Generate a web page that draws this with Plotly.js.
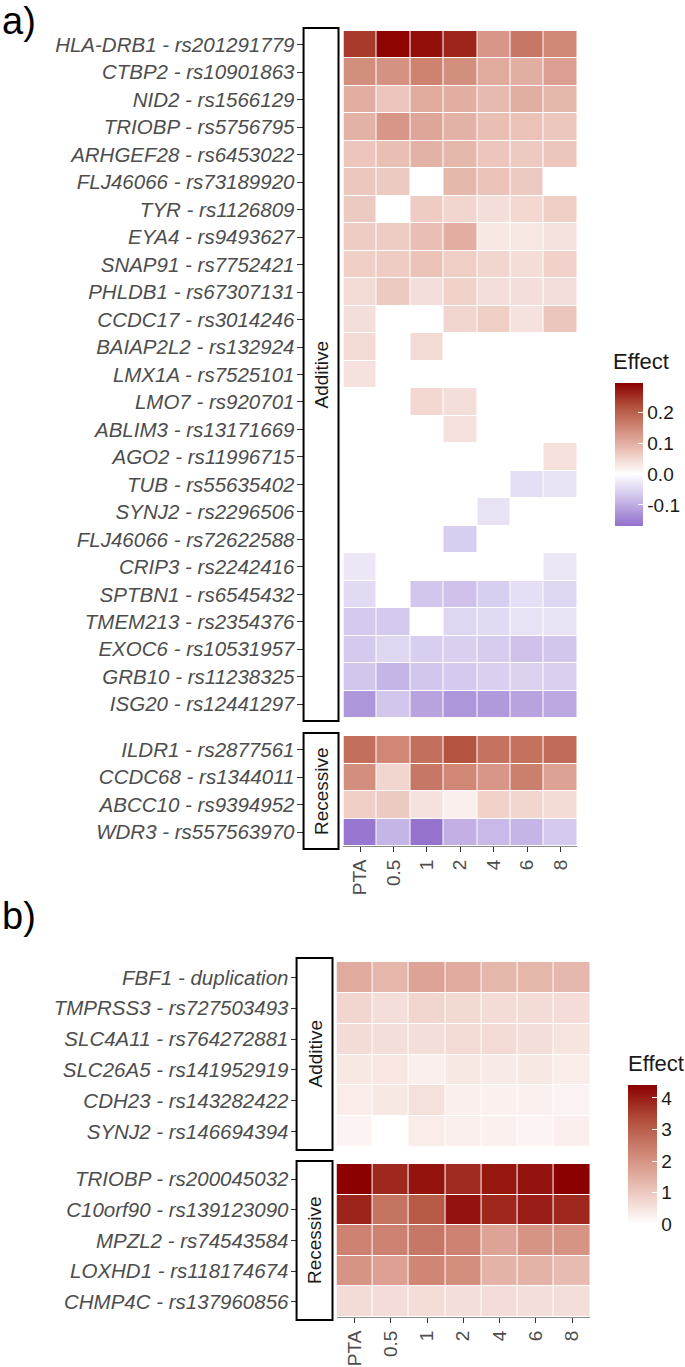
<!DOCTYPE html>
<html>
<head>
<meta charset="utf-8">
<script src="https://cdn.plot.ly/plotly-3.0.1.min.js"></script>
<style>html,body{margin:0;padding:0;background:#fff;}#chart{width:685px;height:1367px;}</style>
</head>
<body>
<div id="chart"></div>
<script>
// ---------- DATA ----------
const freqs = ['PTA', '0.5', '1', '2', '4', '6', '8'];

const aAdditiveLabels = [
  'HLA-DRB1 - rs201291779', 'CTBP2 - rs10901863', 'NID2 - rs1566129', 'TRIOBP - rs5756795',
  'ARHGEF28 - rs6453022', 'FLJ46066 - rs73189920', 'TYR - rs1126809', 'EYA4 - rs9493627',
  'SNAP91 - rs7752421', 'PHLDB1 - rs67307131', 'CCDC17 - rs3014246', 'BAIAP2L2 - rs132924',
  'LMX1A - rs7525101', 'LMO7 - rs920701', 'ABLIM3 - rs13171669', 'AGO2 - rs11996715',
  'TUB - rs55635402', 'SYNJ2 - rs2296506', 'FLJ46066 - rs72622588', 'CRIP3 - rs2242416',
  'SPTBN1 - rs6545432', 'TMEM213 - rs2354376', 'EXOC6 - rs10531957', 'GRB10 - rs11238325',
  'ISG20 - rs12441297'
];
const aAdditiveEffect = [
  [0.24, 0.29, 0.28, 0.26, 0.13, 0.17, 0.15],
  [0.14, 0.135, 0.155, 0.14, 0.105, 0.10, 0.12],
  [0.10, 0.07, 0.105, 0.10, 0.085, 0.10, 0.09],
  [0.095, 0.13, 0.11, 0.095, 0.08, 0.075, 0.068],
  [0.07, 0.08, 0.095, 0.09, 0.07, 0.065, 0.07],
  [0.068, 0.065, null, 0.088, 0.075, 0.065, null],
  [0.065, null, 0.062, 0.05, 0.04, 0.048, 0.06],
  [0.062, 0.062, 0.078, 0.10, 0.028, 0.03, 0.035],
  [0.06, 0.062, 0.075, 0.06, 0.05, 0.042, 0.055],
  [0.045, 0.065, 0.04, 0.055, 0.04, 0.04, 0.04],
  [0.04, null, null, 0.05, 0.06, 0.035, 0.07],
  [0.045, null, 0.045, null, null, null, null],
  [0.035, null, null, null, null, null, null],
  [null, null, 0.048, 0.04, null, null, null],
  [null, null, null, 0.038, null, null, null],
  [null, null, null, null, null, null, 0.038],
  [null, null, null, null, null, -0.04, -0.035],
  [null, null, null, null, -0.035, null, null],
  [null, null, null, -0.06, null, null, null],
  [-0.03, null, null, null, null, null, -0.03],
  [-0.045, null, -0.07, -0.075, -0.06, -0.04, -0.05],
  [-0.065, -0.065, null, -0.05, -0.045, -0.035, -0.035],
  [-0.065, -0.05, -0.06, -0.058, -0.062, -0.075, -0.07],
  [-0.07, -0.09, -0.07, -0.065, -0.058, -0.055, -0.058],
  [-0.125, -0.07, -0.11, -0.125, -0.12, -0.11, -0.105]
];

const aRecessiveLabels = ['ILDR1 - rs2877561', 'CCDC68 - rs1344011', 'ABCC10 - rs9394952', 'WDR3 - rs557563970'];
const aRecessiveEffect = [
  [0.18, 0.15, 0.18, 0.215, 0.175, 0.178, 0.185],
  [0.14, 0.05, 0.17, 0.15, 0.13, 0.16, 0.115],
  [0.06, 0.065, 0.035, 0.02, 0.055, 0.05, 0.045],
  [-0.16, -0.09, -0.165, -0.095, -0.085, -0.09, -0.065]
];

const bAdditiveLabels = ['FBF1 - duplication', 'TMPRSS3 - rs727503493', 'SLC4A11 - rs764272881',
  'SLC26A5 - rs141952919', 'CDH23 - rs143282422', 'SYNJ2 - rs146694394'];
const bAdditiveEffect = [
  [1.55, 1.35, 1.7, 1.55, 1.35, 1.35, 1.3],
  [0.75, 0.6, 0.75, 0.7, 0.65, 0.65, 0.62],
  [0.65, 0.6, 0.6, 0.68, 0.68, 0.6, 0.5],
  [0.42, 0.45, 0.3, 0.42, 0.38, 0.42, 0.35],
  [0.35, 0.42, 0.55, 0.3, 0.28, 0.25, 0.22],
  [0.2, null, 0.35, 0.3, 0.28, 0.2, 0.3]
];

const bRecessiveLabels = ['TRIOBP - rs200045032', 'C10orf90 - rs139123090', 'MPZL2 - rs74543584',
  'LOXHD1 - rs118174674', 'CHMP4C - rs137960856'];
const bRecessiveEffect = [
  [4.4, 3.85, 4.15, 3.8, 4.1, 4.15, 4.4],
  [3.9, 2.6, 3.1, 4.15, 3.85, 4.0, 3.85],
  [2.35, 2.35, 2.55, 2.35, 1.7, 2.0, 2.0],
  [2.0, 1.75, 2.25, 2.1, 1.4, 1.4, 1.25],
  [0.65, 0.62, 0.63, 0.6, 0.62, 0.6, 0.6]
];

const aTicks = [-0.1, 0, 0.1, 0.2];
const aTickText = ['-0.1', '0.0', '0.1', '0.2'];
const bTicks = [0, 1, 2, 3, 4];

// ---------- STYLE / LAYOUT ----------
const W = 685, H = 1367;
const px = v => v / W;
const py = v => 1 - v / H;
const FONT = '"Liberation Sans", Arial, Helvetica, sans-serif';

const aMin = -0.168, aMax = 0.294;
const af = v => (v - aMin) / (aMax - aMin);
const aScale = [
  [0, 'rgb(146,112,204)'],
  [af(-0.084), 'rgb(201,186,232)'],
  [af(0), 'rgb(255,255,255)'],
  [af(0.0735), 'rgb(235,195,185)'],
  [af(0.147), 'rgb(209,137,120)'],
  [af(0.2205), 'rgb(177,79,59)'],
  [1, 'rgb(139,0,0)']
];
const bMin = -0.15, bMax = 4.41;
const bf = v => (v - bMin) / (bMax - bMin);
const bScale = [
  [0, 'rgb(255,255,255)'],
  [bf(0), 'rgb(255,255,255)'],
  [bf(1.1), 'rgb(235,195,185)'],
  [bf(2.2), 'rgb(209,137,120)'],
  [bf(3.3), 'rgb(177,79,59)'],
  [1, 'rgb(139,0,0)']
];

function hm(z, y, xa, ya, scale, zmin, zmax, cb) {
  const t = {
    type: 'heatmap', x: freqs, y: y, z: z, xaxis: xa, yaxis: ya,
    colorscale: scale, zmin: zmin, zmax: zmax, xgap: 1, ygap: 1,
    showscale: !!cb, hoverongaps: false
  };
  if (cb) t.colorbar = cb;
  return t;
}

const cbCommon = {
  xanchor: 'left', yanchor: 'top', xpad: 0, ypad: 0, lenmode: 'pixels', thicknessmode: 'pixels',
  outlinewidth: 0, ticks: 'inside', tickcolor: '#ffffff', ticklen: 5, tickwidth: 1,
  tickfont: {family: FONT, size: 19, color: '#1a1a1a'}
};

const data = [
  hm(aAdditiveEffect, aAdditiveLabels, 'x', 'y', aScale, aMin, aMax,
     Object.assign({}, cbCommon, {x: px(615), y: py(383), len: 143, thickness: 28,
       tickvals: aTicks, ticktext: aTickText, tickmode: 'array'})),
  hm(aRecessiveEffect, aRecessiveLabels, 'x2', 'y2', aScale, aMin, aMax, null),
  hm(bAdditiveEffect, bAdditiveLabels, 'x3', 'y3', bScale, bMin, bMax,
     Object.assign({}, cbCommon, {x: px(628), y: py(1085), len: 144, thickness: 29,
       tickvals: bTicks, tickmode: 'array'})),
  hm(bRecessiveEffect, bRecessiveLabels, 'x4', 'y4', bScale, bMin, bMax, null)
];

function xAx(x0, x1, anchor, show) {
  return {
    domain: [px(x0), px(x1)], anchor: anchor, type: 'category', fixedrange: true,
    showgrid: false, zeroline: false,
    showticklabels: show, ticks: show ? 'outside' : '', ticklen: 5, tickcolor: '#333333',
    showline: show, linecolor: '#8c8c8c', linewidth: 1,
    tickangle: -90, tickfont: {family: FONT, size: 19, color: '#4d4d4d'}
  };
}
function yAx(y0, y1, pos) {
  return {
    domain: [py(y1), py(y0)], anchor: 'free', position: px(pos), type: 'category',
    autorange: 'reversed', fixedrange: true, showgrid: false, zeroline: false,
    ticks: 'outside', ticklen: 6, tickcolor: '#333333', showline: false,
    ticklabelstandoff: -2,
    tickfont: {family: FONT, size: 20.5, color: '#4d4d4d', style: 'italic'}
  };
}

const shapes = [
  [304, 28, 339, 721], [304, 733, 339, 849],
  [297, 958, 333, 1150], [297, 1161, 333, 1320]
].map(r => ({
  type: 'rect', xref: 'paper', yref: 'paper',
  x0: px(r[0]), x1: px(r[2]), y0: py(r[3]), y1: py(r[1]),
  line: {color: '#000000', width: 2}, fillcolor: 'rgba(255,255,255,0)'
}));

function stripText(t, x, y) {
  return {text: t, x: px(x), y: py(y), xref: 'paper', yref: 'paper', showarrow: false,
    textangle: -90, xanchor: 'center', yanchor: 'middle',
    font: {family: FONT, size: 19, color: '#1a1a1a'}};
}

const annotations = [
  {text: 'a)', x: 0, y: py(-2), xref: 'paper', yref: 'paper', xanchor: 'left', yanchor: 'top',
   showarrow: false, font: {family: FONT, size: 38, color: '#000'}},
  {text: 'b)', x: 0, y: py(893), xref: 'paper', yref: 'paper', xanchor: 'left', yanchor: 'top',
   showarrow: false, font: {family: FONT, size: 38, color: '#000'}},
  stripText('Additive', 321.5, 374.5),
  stripText('Recessive', 321.5, 791),
  stripText('Additive', 315, 1054),
  stripText('Recessive', 315, 1240.5),
  {text: 'Effect', x: px(612), y: py(362), xref: 'paper', yref: 'paper', xanchor: 'left', yanchor: 'middle',
   showarrow: false, font: {family: FONT, size: 22, color: '#1a1a1a'}},
  {text: 'Effect', x: px(627), y: py(1063), xref: 'paper', yref: 'paper', xanchor: 'left', yanchor: 'middle',
   showarrow: false, font: {family: FONT, size: 22, color: '#1a1a1a'}}
];

const layout = {
  width: W, height: H, margin: {l: 0, r: 0, t: 0, b: 0},
  paper_bgcolor: '#ffffff', plot_bgcolor: '#ffffff', showlegend: false,
  font: {family: FONT},
  xaxis: xAx(344, 578, 'y', false),
  yaxis: yAx(31, 718, 303),
  xaxis2: xAx(344, 578, 'y2', true),
  yaxis2: yAx(736, 846, 303),
  xaxis3: xAx(337, 591, 'y3', false),
  yaxis3: yAx(962, 1147, 297),
  xaxis4: xAx(337, 591, 'y4', true),
  yaxis4: yAx(1164, 1317, 297),
  shapes: shapes, annotations: annotations
};

Plotly.newPlot('chart', data, layout, {displayModeBar: false, staticPlot: true});
</script>
</body>
</html>
